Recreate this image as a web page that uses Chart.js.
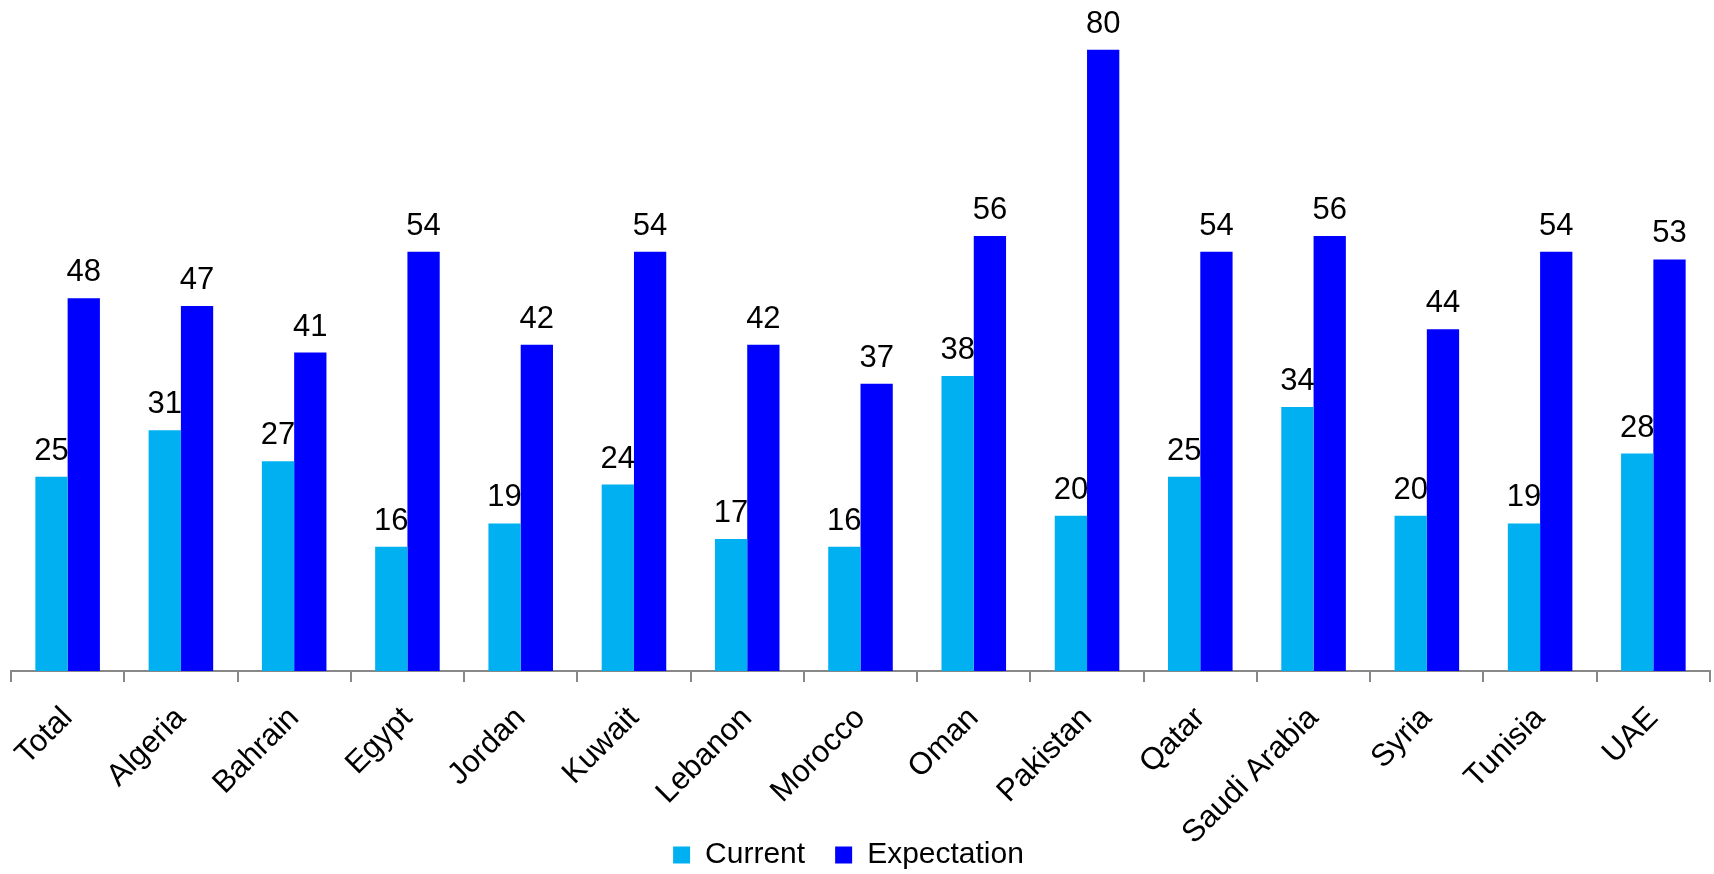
<!DOCTYPE html>
<html>
<head>
<meta charset="utf-8">
<title>Current vs Expectation</title>
<script src="https://cdn.jsdelivr.net/npm/chart.js@4/dist/chart.umd.min.js"></script>
<style>
  html, body { margin: 0; padding: 0; background: #fff; }
  #wrap { width: 1714px; height: 874px; }
</style>
</head>
<body>
<div id="wrap"><canvas id="mycanvas"></canvas></div>
<script>
var countries = ['Total', 'Algeria', 'Bahrain', 'Egypt', 'Jordan', 'Kuwait', 'Lebanon', 'Morocco',
  'Oman', 'Pakistan', 'Qatar', 'Saudi Arabia', 'Syria', 'Tunisia', 'UAE'];
var current = [25, 31, 27, 16, 19, 24, 17, 16, 38, 20, 25, 34, 20, 19, 28];
var expectation = [48, 47, 41, 54, 42, 54, 42, 37, 56, 80, 54, 56, 44, 54, 53];

var FONT = '"Liberation Sans", Arial, sans-serif';

// value labels above each bar
var barLabels = {
  id: 'barLabels',
  afterDatasetsDraw: function(chart) {
    var ctx = chart.ctx;
    ctx.save();
    ctx.font = '31px ' + FONT;
    ctx.fillStyle = '#000';
    ctx.textAlign = 'center';
    ctx.textBaseline = 'alphabetic';
    chart.data.datasets.forEach(function(ds, i) {
      chart.getDatasetMeta(i).data.forEach(function(bar, j) {
        ctx.fillText(ds.data[j], bar.x, bar.y - 17);
      });
    });
    ctx.restore();
  }
};

// let the slanted country names run past the axis box, and nudge the legend
var layoutTweaks = {
  id: 'layoutTweaks',
  afterLayout: function(chart) {
    chart.scales.x.bottom = chart.height;
    var lg = chart.legend;
    lg.top += 6; lg.bottom += 6;
    lg.left -= 12; lg.right -= 12;
  }
};

var chartdata = {
  labels: countries,
  datasets: [
    {
      label: 'Current',
      backgroundColor: '#00B0F0',
      data: current
    },
    {
      label: 'Expectation',
      backgroundColor: '#0000FF',
      data: expectation
    }
  ]
};

var ctx = document.getElementById('mycanvas');

var barGraph = new Chart(ctx, {
  type: 'bar',
  data: chartdata,
  plugins: [barLabels, layoutTweaks],
  options: {
    responsive: true,
    maintainAspectRatio: false,
    animation: false,
    layout: { padding: { left: 11, right: 4, top: 0, bottom: 0 } },
    datasets: {
      bar: { categoryPercentage: 0.57, barPercentage: 1.0 }
    },
    plugins: {
      tooltip: { enabled: false },
      legend: {
        position: 'bottom',
        labels: {
          boxWidth: 17,
          boxHeight: 17,
          padding: 30,
          color: '#000',
          font: { family: FONT, size: 30 }
        }
      }
    },
    scales: {
      x: {
        grid: {
          display: true,
          offset: true,
          drawOnChartArea: false,
          drawTicks: true,
          tickLength: 11,
          color: '#888',
          lineWidth: 2
        },
        border: { display: true, color: '#888', width: 2 },
        ticks: {
          autoSkip: false,
          maxRotation: 45,
          minRotation: 45,
          padding: 18,
          color: '#000',
          font: { family: FONT, size: 31 }
        },
        afterFit: function(scale) { scale.height = 133; }
      },
      y: {
        display: false,
        min: 0,
        max: 86.4
      }
    }
  }
});
</script>
</body>
</html>
